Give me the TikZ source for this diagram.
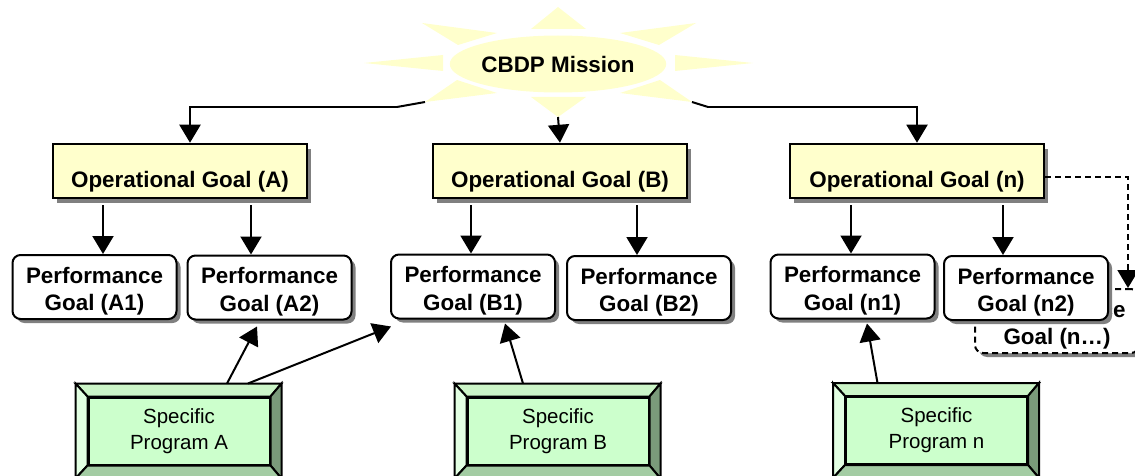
\documentclass[tikz,border=0pt]{standalone}
\usepackage{fontspec}
\setmainfont{Liberation Sans}
\usetikzlibrary{arrows.meta,shapes.geometric,shadows,calc}
\definecolor{sunY}{HTML}{FFFFCC}
\definecolor{opY}{HTML}{FFFFCC}
\definecolor{pgIn}{HTML}{CCFFCC}
\definecolor{pgT}{HTML}{CCF5C8}
\definecolor{pgL}{HTML}{E2FFE2}
\definecolor{pgR}{HTML}{7A9A7A}
\definecolor{pgB}{HTML}{A3CCA3}
\definecolor{shad}{HTML}{808080}
\newcommand\perfstrut{\rule{0pt}{25pt}}
\begin{document}
\begin{tikzpicture}[x=1pt,y=-1pt,
 conn/.style={line width=2pt,-{Triangle[length=18pt,width=21pt]}},
 dconn/.style={line width=2pt,dash pattern=on 6pt off 4pt,-{Triangle[length=18pt,width=21pt]}},
 opbox/.style={draw,line width=2.5pt,fill=opY,minimum width=254pt,minimum height=54pt,inner sep=0pt,
   font=\fontsize{22.4}{27}\selectfont\bfseries,text height=36pt,text depth=4pt,
   general shadow={fill=shad,shadow xshift=4pt,shadow yshift=-5pt}},
 perfbox/.style={draw,line width=2pt,fill=white,rounded corners=8pt,minimum width=164pt,minimum height=64pt,
   inner sep=0pt,align=center,font=\fontsize{22.4}{27.5}\selectfont\bfseries,
   general shadow={fill=shad,shadow xshift=4pt,shadow yshift=-4pt}},
 dashbox/.style={perfbox,dash pattern=on 6pt off 4pt},
 proginner/.style={draw,line width=2pt,fill=pgIn,minimum width=181pt,minimum height=67pt,inner sep=0pt,
   align=center,font=\fontsize{20.5}{26}\selectfont},
 face/.style={draw,line width=2pt,line join=miter}
]
\useasboundingbox (0,0) rectangle (1135,476);

% sun
\fill[sunY] (558,7) -- (531,29) -- (586,29) -- cycle;
\fill[sunY] (558,117) -- (531,97) -- (586,97) -- cycle;
\fill[sunY] (364,63) -- (443,55) -- (443,71) -- cycle;
\fill[sunY] (753,63) -- (675,55) -- (675,71) -- cycle;
\fill[sunY] (422,23) -- (497,33) -- (458,45) -- cycle;
\fill[sunY] (696,23) -- (620,33) -- (659,45) -- cycle;
\fill[sunY] (425,102) -- (457,80) -- (497,93) -- cycle;
\fill[sunY] (692,102) -- (660,80) -- (620,93) -- cycle;
\node[ellipse,fill=sunY,minimum width=197pt,minimum height=57pt,inner sep=0pt,
  font=\fontsize{22.4}{27}\selectfont\bfseries] (sun) at (558,64) {CBDP Mission};
\coordinate (sunLL) at (425,102);
\coordinate (sunB) at (558,117);
\coordinate (sunLR) at (692,102);

% operational goals
\node[opbox] (opA) at (180,171) {Operational Goal (A)};
\node[opbox] (opB) at (560,171) {Operational Goal (B)};
\node[opbox] (opN) at (917,171) {Operational Goal (n)};

% performance goals
\node[dashbox] (pNx) at (1057,321) {\perfstrut Performance\\Goal (n\ldots)};
\node[perfbox] (pA1) at (94.5,287) {\perfstrut Performance\\Goal (A1)};
\node[perfbox] (pA2) at (269.5,287.5) {\perfstrut Performance\\Goal (A2)};
\node[perfbox] (pB1) at (473,286.5) {\perfstrut Performance\\Goal (B1)};
\node[perfbox] (pB2) at (649,288) {\perfstrut Performance\\Goal (B2)};
\node[perfbox] (pN1) at (852.5,286.5) {\perfstrut Performance\\Goal (n1)};
\node[perfbox] (pN2) at (1026,288) {\perfstrut Performance\\Goal (n2)};

% programs
\node[proginner] (pgA) at (179,431) {Specific\\Program A};
\node[proginner] (pgB) at (558,431) {Specific\\Program B};
\node[proginner] (pgN) at (936.5,430.5) {Specific\\Program n};
\foreach \p in {pgA,pgB,pgN}{
  \coordinate (\p-onw) at ($(\p.north west)+(-12,-13)$);
  \coordinate (\p-one) at ($(\p.north east)+(11,-13)$);
  \coordinate (\p-osw) at ($(\p.south west)+(-12,13)$);
  \coordinate (\p-ose) at ($(\p.south east)+(11,13)$);
  \path[face,fill=pgT] (\p-onw) -- (\p-one) -- (\p.north east) -- (\p.north west) -- cycle;
  \path[face,fill=pgL] (\p-onw) -- (\p.north west) -- (\p.south west) -- (\p-osw) -- cycle;
  \path[face,fill=pgR] (\p-one) -- (\p-ose) -- (\p.south east) -- (\p.north east) -- cycle;
  \path[face,fill=pgB] (\p-osw) -- (\p.south west) -- (\p.south east) -- (\p-ose) -- cycle;
}

% connectors from mission
\draw[line width=2pt] (sunLL) -- (397,107);
\draw[conn] (397,107) -| ([xshift=10pt]opA.north);
\draw[conn] (sunB) -- (opB.north);
\draw[line width=2pt] (sunLR) -- (708,107);
\draw[conn] (708,107) -| (opN.north);

% operational -> performance
\draw[conn] ([xshift=8.5pt,yshift=-6pt]opA.south -| pA1.north) -- ([xshift=8.5pt]pA1.north);
\draw[conn] ([xshift=-18.5pt,yshift=-6pt]opA.south -| pA2.north) -- ([xshift=-18.5pt]pA2.north);
\draw[conn] ([xshift=-2pt,yshift=-6pt]opB.south -| pB1.north) -- ([xshift=-2pt]pB1.north);
\draw[conn] ([xshift=-12pt,yshift=-6pt]opB.south -| pB2.north) -- ([xshift=-12pt]pB2.north);
\draw[conn] ([xshift=-1.5pt,yshift=-6pt]opN.south -| pN1.north) -- ([xshift=-1.5pt]pN1.north);
\draw[conn] ([xshift=-23pt,yshift=-6pt]opN.south -| pN2.north) -- ([xshift=-23pt]pN2.north);
\draw[dconn] ([yshift=-6pt]opN.east) -| ([xshift=71pt]pNx.north);

% programs -> performance
\draw[conn] ([xshift=48pt,yshift=13pt]pgA.north) -- ([xshift=-12.5pt,yshift=-6pt]pA2.south);
\draw[conn] ([xshift=69pt,yshift=13pt]pgA.north) -- ([xshift=1pt,yshift=-7pt]pB1.south west);
\draw[conn] ([xshift=-35pt,yshift=13pt]pgB.north) -- ([xshift=32pt,yshift=-4pt]pB1.south);
\draw[conn] ([xshift=-59pt,yshift=13pt]pgN.north) -- ([xshift=14.5pt,yshift=-4pt]pN1.south);
\end{tikzpicture}
\end{document}
